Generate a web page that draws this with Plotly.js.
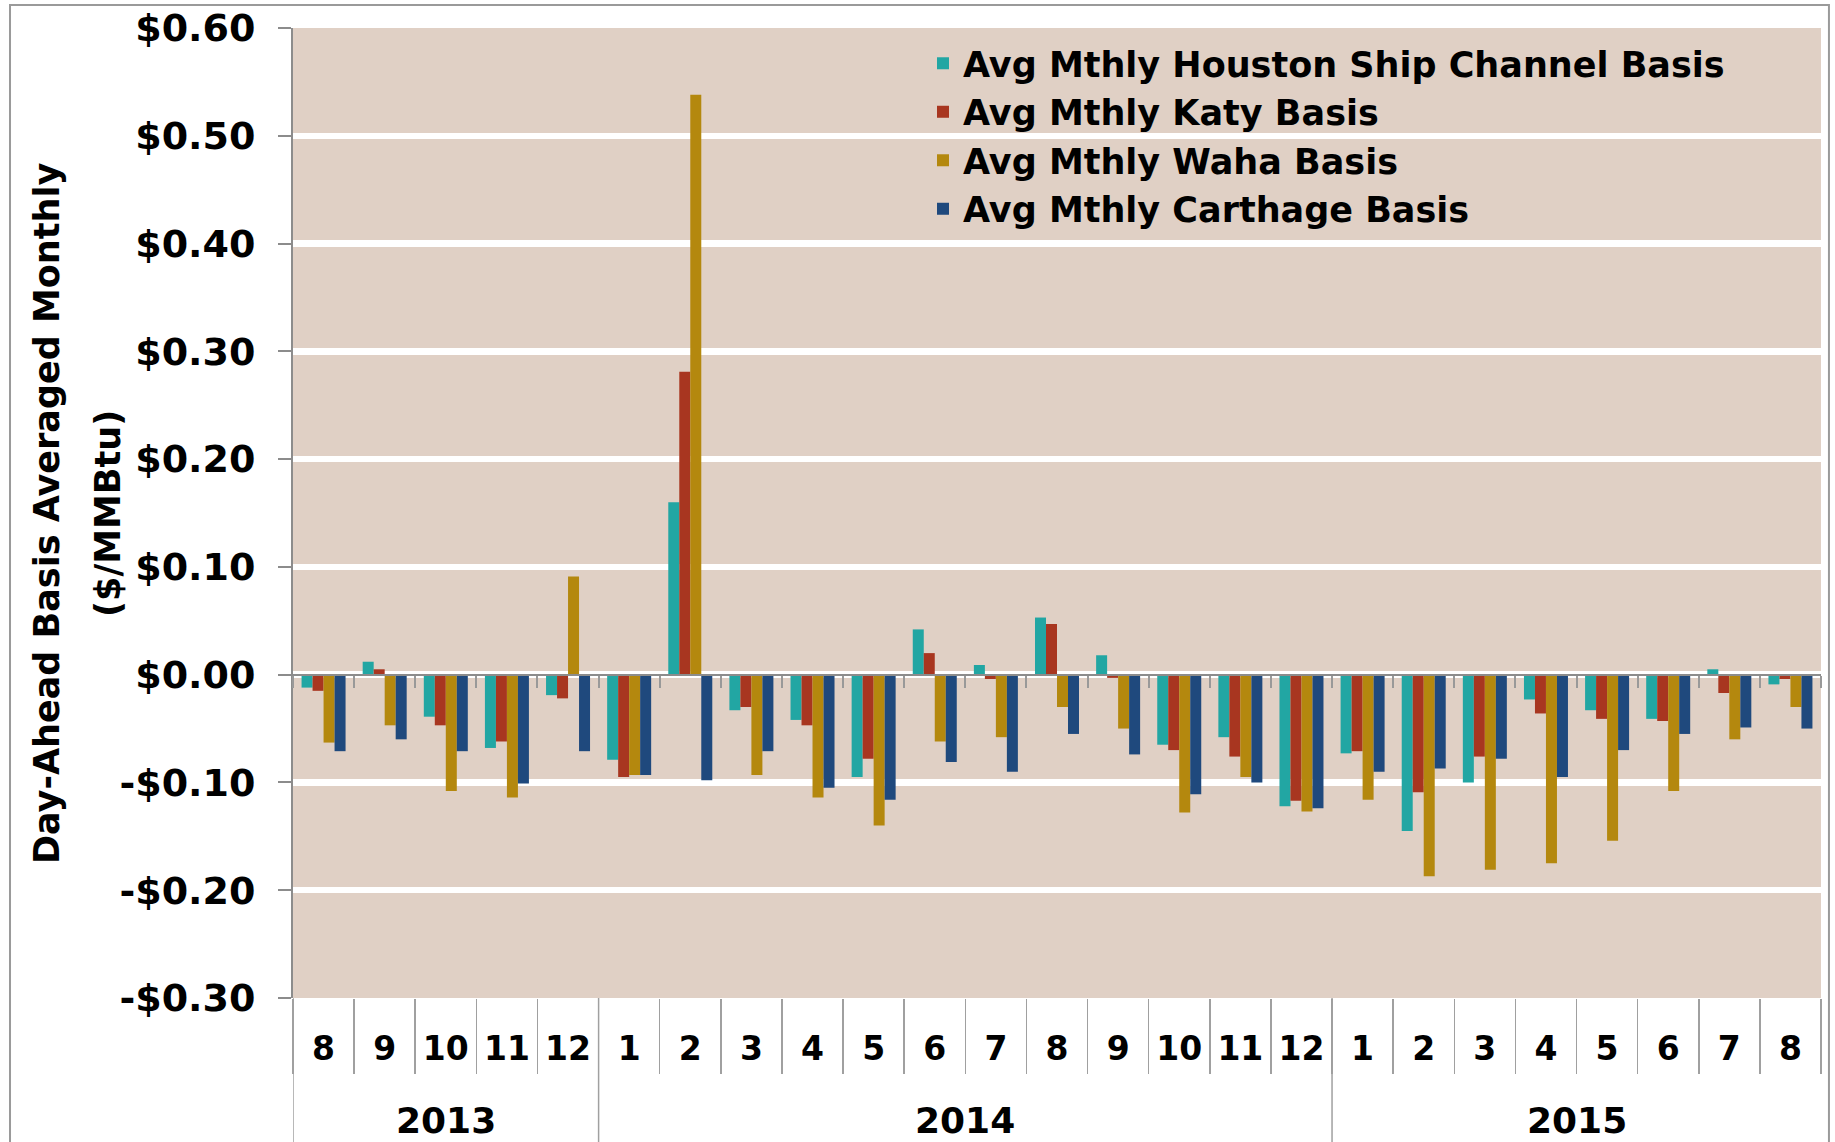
<!DOCTYPE html>
<html>
<head>
<meta charset="utf-8">
<script src="https://cdn.plot.ly/plotly-3.0.1.min.js"></script>
<style>html,body{margin:0;padding:0;background:#fff;}#chart{width:1835px;height:1142px;}</style>
</head>
<body>
<div id="chart"></div>
<script>
const years = ['2013','2013','2013','2013','2013',
  '2014','2014','2014','2014','2014','2014','2014','2014','2014','2014','2014','2014',
  '2015','2015','2015','2015','2015','2015','2015','2015'];
const months = ['8','9','10','11','12','1','2','3','4','5','6','7','8','9','10','11','12','1','2','3','4','5','6','7','8'];

const houston = [-0.012, 0.012, -0.039, -0.068, -0.019, -0.079, 0.160, -0.033, -0.042, -0.095, 0.042, 0.009, 0.053, 0.018, -0.065, -0.058, -0.122, -0.073, -0.145, -0.100, -0.023, -0.033, -0.041, 0.005, -0.009];
const katy = [-0.015, 0.005, -0.047, -0.062, -0.022, -0.095, 0.281, -0.030, -0.047, -0.078, 0.020, -0.004, 0.047, -0.003, -0.070, -0.076, -0.117, -0.071, -0.109, -0.076, -0.036, -0.041, -0.043, -0.017, -0.004];
const waha = [-0.063, -0.047, -0.108, -0.114, 0.091, -0.093, 0.538, -0.093, -0.114, -0.140, -0.062, -0.058, -0.030, -0.050, -0.128, -0.095, -0.127, -0.116, -0.187, -0.181, -0.175, -0.154, -0.108, -0.060, -0.030];
const carthage = [-0.071, -0.060, -0.071, -0.101, -0.071, -0.093, -0.098, -0.071, -0.105, -0.116, -0.081, -0.090, -0.055, -0.074, -0.111, -0.100, -0.124, -0.090, -0.087, -0.078, -0.095, -0.070, -0.055, -0.049, -0.050];

const seriesNames = ['Avg Mthly Houston Ship Channel Basis','Avg Mthly Katy Basis','Avg Mthly Waha Basis','Avg Mthly Carthage Basis'];
const seriesColors = ['#22A6A3','#A83620','#B4880E','#1F497D'];

const yTickVals = [-0.30,-0.20,-0.10,0.00,0.10,0.20,0.30,0.40,0.50,0.60];
const yTickText = ['-$0.30','-$0.20','-$0.10','$0.00','$0.10','$0.20','$0.30','$0.40','$0.50','$0.60'];
const yTitleLines = ['Day-Ahead Basis Averaged Monthly', '($/MMBtu)'];

const FONT = 'DejaVu Sans, Liberation Sans, Arial, sans-serif';
const seriesValues = [houston, katy, waha, carthage];

// unique category key per month, labelled with the month number
const catKeys = months.map((m, i) => years[i] + '-' + m);

const traces = seriesValues.map((vals, i) => ({
  type: 'bar',
  name: seriesNames[i],
  x: catKeys,
  y: vals,
  marker: {color: seriesColors[i], line: {width: 0}},
  hoverinfo: 'y+name'
}));

const boundaries = [];
for (let i = 0; i <= months.length; i++) boundaries.push(i - 0.5);
traces.push({type: 'scatter', x: [], y: [], xaxis: 'x2', yaxis: 'y', showlegend: false, hoverinfo: 'skip'});

// year groups: label centred on its months, divider at its start
const yearGroups = [];
years.forEach((y, i) => {
  const g = yearGroups[yearGroups.length - 1];
  if (!g || g.year !== y) yearGroups.push({year: y, first: i, last: i});
  else g.last = i;
});

const annotations = yearGroups.map(g => ({
  xref: 'x', yref: 'paper', x: (g.first + g.last) / 2, y: -0.1268,
  xanchor: 'center', yanchor: 'middle', showarrow: false,
  text: g.year, font: {family: FONT, size: 36, weight: 700, color: '#000'}
}));
annotations.push(
  {xref: 'paper', yref: 'paper', x: -0.1610, y: 0.5, xanchor: 'center', yanchor: 'middle',
   textangle: -90, showarrow: false, text: yTitleLines[0],
   font: {family: FONT, size: 35, weight: 700, color: '#000'}},
  {xref: 'paper', yref: 'paper', x: -0.1211, y: 0.5, xanchor: 'center', yanchor: 'middle',
   textangle: -90, showarrow: false, text: yTitleLines[1],
   font: {family: FONT, size: 35, weight: 700, color: '#000'}}
);

const shapes = yearGroups.map(g => ({
  type: 'line', xref: 'x', yref: 'paper', x0: g.first - 0.5, x1: g.first - 0.5, y0: 0, y1: -0.2,
  line: {color: '#A0A0A0', width: 1.5}
}));
shapes.push({type: 'rect', xref: 'paper', yref: 'paper', x0: -0.1852, x1: 1.0052, y0: -0.3, y1: 1.0237,
  line: {color: '#9A9A9A', width: 2}, fillcolor: 'rgba(0,0,0,0)', layer: 'below'});

const layout = {
  width: 1835, height: 1142,
  paper_bgcolor: '#ffffff',
  plot_bgcolor: '#E0D0C5',
  margin: {l: 293, r: 14, t: 28, b: 144, pad: 0},
  barmode: 'group',
  bargap: 0.28,
  bargroupgap: 0,
  font: {family: FONT, color: '#000'},
  showlegend: true,
  legend: {
    x: 0.4123, xanchor: 'left', y: 0.9938, yanchor: 'top',
    bgcolor: 'rgba(0,0,0,0)',
    font: {family: FONT, size: 35, weight: 700, color: '#000'},
    tracegroupgap: 0
  },
  xaxis: {
    type: 'category',
    range: [-0.5, months.length - 0.5],
    tickmode: 'array', tickvals: catKeys, ticktext: months,
    showgrid: false, zeroline: false, showline: false,
    ticks: 'outside', tickson: 'boundaries', ticklen: 75, tickwidth: 1.5, tickcolor: '#A0A0A0',
    ticklabelstandoff: 28,
    tickfont: {family: FONT, size: 33, weight: 700, color: '#000'}
  },
  xaxis2: {
    overlaying: 'x', anchor: 'free', position: 1/3, side: 'bottom',
    type: 'linear', range: [-0.5, months.length - 0.5],
    tickmode: 'array', tickvals: boundaries,
    ticks: 'outside', ticklen: 12, tickwidth: 2, tickcolor: '#999999',
    showticklabels: false, showgrid: false, zeroline: false,
    showline: true, linecolor: '#8C8C8C', linewidth: 2.5
  },
  yaxis: {
    range: [-0.30, 0.60],
    tickmode: 'array', tickvals: yTickVals, ticktext: yTickText,
    showgrid: true, gridcolor: '#FFFFFF', gridwidth: 6.5,
    zeroline: false,
    showline: true, linecolor: '#8C8C8C', linewidth: 2,
    ticks: 'outside', ticklen: 13, tickwidth: 2, tickcolor: '#8C8C8C',
    ticklabelstandoff: 15,
    tickfont: {family: FONT, size: 38, weight: 700, color: '#000'},
    automargin: false
  },
  annotations: annotations,
  shapes: shapes
};

Plotly.newPlot('chart', traces, layout, {displayModeBar: false, staticPlot: true});
</script>
</body>
</html>
